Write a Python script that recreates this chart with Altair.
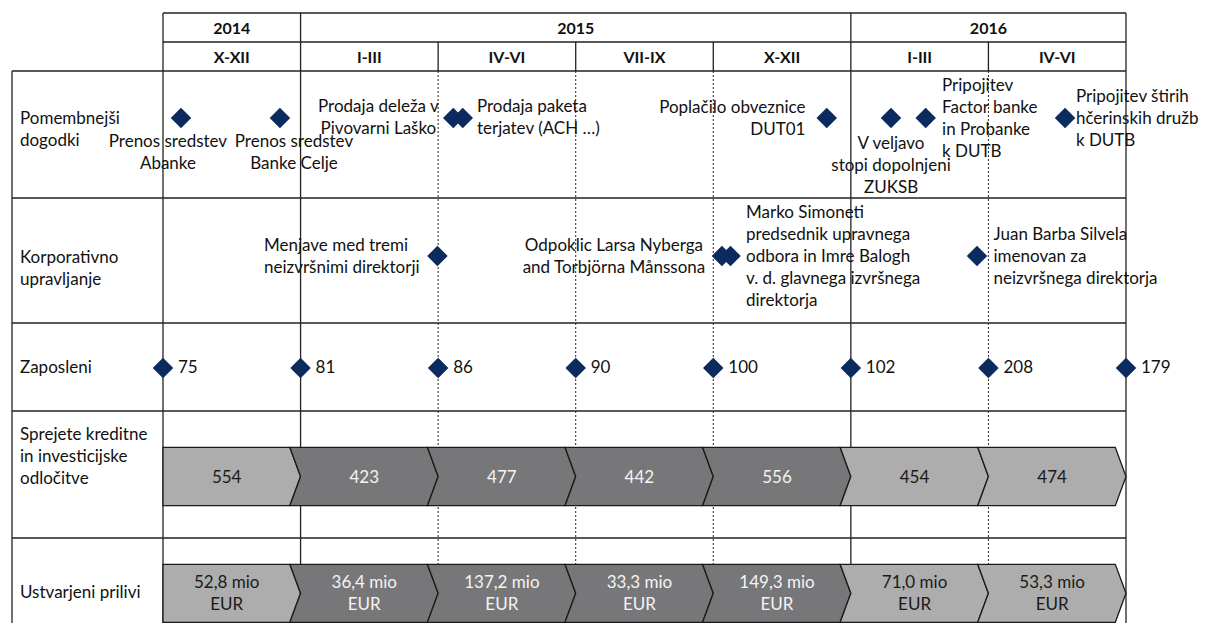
import altair as alt
import pandas as pd

# ---------------- data ----------------
years = ["2014", "2015", "2016"]
year_start = [0, 1, 5]          # in quarters counted from Oct 2014
year_end = [1, 5, 7]
quarters = ["X-XII", "I-III", "IV-VI", "VII-IX", "X-XII", "I-III", "IV-VI"]

row_names = [
    ["Pomembnejši", "dogodki"],
    ["Korporativno", "upravljanje"],
    ["Zaposleni"],
    ["Sprejete kreditne", "in investicijske", "odločitve"],
    ["Ustvarjeni prilivi"],
]

event_row = [0, 0, 0, 0, 0, 0, 0, 0, 1, 1, 1, 1]
event_time = [0.131, 0.850, 2.110, 2.179, 4.825, 5.292, 5.544, 6.557,
              1.995, 4.063, 4.125, 5.917]
event_text = [
    ["Prenos sredstev", "Abanke"],
    ["Prenos sredstev", "Banke Celje"],
    ["Prodaja deleža v", "Pivovarni Laško"],
    ["Prodaja paketa", "terjatev (ACH …)"],
    ["Poplačilo obveznice", "DUT01"],
    ["V veljavo", "stopi dopolnjeni", "ZUKSB"],
    ["Pripojitev", "Factor banke", "in Probanke", "k DUTB"],
    ["Pripojitev štirih", "hčerinskih družb", "k DUTB"],
    ["Menjave med tremi", "neizvršnimi direktorji"],
    ["Odpoklic Larsa Nyberga", "and Torbjörna Månssona"],
    ["Marko Simoneti", "predsednik upravnega", "odbora in Imre Balogh",
     "v. d. glavnega izvršnega", "direktorja"],
    ["Juan Barba Silvela", "imenovan za", "neizvršnega direktorja"],
]

employees = [75, 81, 86, 90, 100, 102, 208, 179]
decisions = ["554", "423", "477", "442", "556", "454", "474"]
inflows = ["52,8 mio", "36,4 mio", "137,2 mio", "33,3 mio", "149,3 mio", "71,0 mio", "53,3 mio"]
shade = ["light", "dark", "dark", "dark", "dark", "light", "light"]

# ---------------- layout ----------------
W, H = 1192, 615
PX_PER_Q = 137.57
X_FIRST = 163
LEFT_EDGE = (12 - X_FIRST) / PX_PER_Q
LABEL_X = (20 - X_FIRST) / PX_PER_Q
xs = alt.Scale(domain=[(8 - X_FIRST) / PX_PER_Q, (8 + W - X_FIRST) / PX_PER_Q], nice=False, zero=False)
ys = alt.Scale(domain=[8, 8 + H], reverse=True, nice=False, zero=False)

LH = 22
HEAD_Y = [13, 42, 71]
ROW_EDGES = [71, 198, 323, 411, 538]
BOTTOM = 660
ROW_LABEL_Y = [130, 269, 368, 457, 593]
DIAMOND_Y = [118, 256, 368]

label_align = ["center", "center", "center", "left", "right", "center", "left", "left",
               "left", "center", "left", "left"]
label_x = [0.036, 0.952, 1.566, 2.282, 4.670, 5.292, 5.663, 6.636,
           0.734, 3.278, 4.238, 6.037]
label_y = [152.5, 152.5, 117.5, 117.5, 119, 165.5, 119, 118.5,
           257, 257, 257, 257]

BARS = [(447.3, 505.7), (564.3, 622.3)]
NOTCH = 10.7 / PX_PER_Q
FILL = {"light": "#adadad", "dark": "#77777a"}
TEXTC = {"light": "#1a1a1a", "dark": "#f4f4f4"}

FONT = "Lato"
LINE = "#222222"
NAVY = "#0b2a5e"


def first_line(center, lines):
    """y of the first line so that a block of lines is centred on `center`."""
    return center - (len(lines) - 1) * LH / 2


# ---------------- tables ----------------
solid, dotted = [], []
for yy in HEAD_Y[:2]:
    solid.append(dict(x=0, x2=7, y=yy, y2=yy))
for yy in ROW_EDGES:
    solid.append(dict(x=LEFT_EDGE, x2=7, y=yy, y2=yy))
for qq in [0, 1, 5, 7]:
    solid.append(dict(x=qq, x2=qq, y=HEAD_Y[0], y2=BOTTOM))
solid.append(dict(x=LEFT_EDGE, x2=LEFT_EDGE, y=HEAD_Y[2], y2=BOTTOM))
for qq in [2, 3, 4, 6]:
    solid.append(dict(x=qq, x2=qq, y=HEAD_Y[1], y2=HEAD_Y[2]))
    dotted.append(dict(x=qq, x2=qq, y=HEAD_Y[2], y2=BOTTOM))
solid_df = pd.DataFrame(solid)
dotted_df = pd.DataFrame(dotted)

head = []
for name, a, b in zip(years, year_start, year_end):
    head.append(dict(x=(a + b) / 2, y=(HEAD_Y[0] + HEAD_Y[1]) / 2 + 1, t=name))
for i, name in enumerate(quarters):
    head.append(dict(x=i + 0.5, y=(HEAD_Y[1] + HEAD_Y[2]) / 2 + 1, t=name))
head_df = pd.DataFrame(head)

rowlab_df = pd.DataFrame(dict(x=[LABEL_X] * len(row_names),
                              y=[first_line(c, t) for c, t in zip(ROW_LABEL_Y, row_names)],
                              t=row_names))

diam = [dict(x=t, y=DIAMOND_Y[r]) for r, t in zip(event_row, event_time)]
diam += [dict(x=i, y=DIAMOND_Y[2]) for i in range(len(employees))]
diam_df = pd.DataFrame(diam)

ev_df = pd.DataFrame(dict(x=label_x,
                          y=[first_line(c, t) for c, t in zip(label_y, event_text)],
                          t=event_text, a=label_align))
emp_df = pd.DataFrame(dict(x=list(range(len(employees))), y=[DIAMOND_Y[2]] * len(employees),
                           t=[str(v) for v in employees]))

chev = []
btext = []
for b, ((top, bot), vals) in enumerate(zip(BARS, [decisions, inflows])):
    mid = (top + bot) / 2
    for i, v in enumerate(vals):
        left = [i, i, i] if i == 0 else [i - NOTCH, i, i - NOTCH]
        right = [i + 1 - NOTCH, i + 1, i + 1 - NOTCH]
        for yy, xl, xr in zip([top, mid, bot], left, right):
            chev.append(dict(seg=f"{b}-{i}", y=yy, x=xl, x2=xr, fill=FILL[shade[i]]))
        txt = [v] if b == 0 else [v, "EUR"]
        btext.append(dict(x=i + 0.5 - 0.037, y=first_line(mid + 1, txt), t=txt, c=TEXTC[shade[i]]))
chev_df = pd.DataFrame(chev)
btext_df = pd.DataFrame(btext)


def X(f="x"):
    return alt.X(f"{f}:Q", scale=xs, axis=None)


def Y(f="y"):
    return alt.Y(f"{f}:Q", scale=ys, axis=None)


grid_solid = alt.Chart(solid_df).mark_rule(color=LINE, strokeWidth=1.3).encode(
    x=X(), x2="x2:Q", y=Y(), y2="y2:Q")
grid_dot = alt.Chart(dotted_df).mark_rule(color=LINE, strokeWidth=1, strokeDash=[2, 2]).encode(
    x=X(), x2="x2:Q", y=Y(), y2="y2:Q")

bars = alt.Chart(chev_df).mark_area(orient="horizontal", stroke="#1a1a1a", strokeWidth=1.3,
                                     opacity=1, fillOpacity=1).encode(
    y=Y(), x=X(), x2="x2:Q", detail="seg:N", fill=alt.Fill("fill:N", scale=None))
bar_txt = alt.Chart(btext_df).mark_text(font=FONT, fontSize=17, lineHeight=LH, align="center",
                                        baseline="middle").encode(
    x=X(), y=Y(), text="t:N", color=alt.Color("c:N", scale=None))

diamonds = alt.Chart(diam_df).mark_point(shape="diamond", filled=True, size=420, color=NAVY,
                                         opacity=1).encode(x=X(), y=Y())


def ev_layer(al):
    return alt.Chart(ev_df).transform_filter(alt.datum.a == al).mark_text(
        font=FONT, fontSize=17, lineHeight=LH, align=al, baseline="middle", color="#111111").encode(
        x=X(), y=Y(), text="t:N")


emp_txt = alt.Chart(emp_df).mark_text(font=FONT, fontSize=17, align="left", baseline="middle",
                                      dx=15, color="#111111").encode(x=X(), y=Y(), text="t:N")

head_txt = alt.Chart(head_df).mark_text(font=FONT, fontSize=16, fontWeight="bold", align="center",
                                        baseline="middle", color="#111111").encode(
    x=X(), y=Y(), text="t:N")
row_txt = alt.Chart(rowlab_df).mark_text(font=FONT, fontSize=17, lineHeight=LH, align="left",
                                         baseline="middle", color="#111111").encode(
    x=X(), y=Y(), text="t:N")

chart = alt.layer(
    grid_solid, grid_dot, bars, bar_txt, diamonds,
    ev_layer("left"), ev_layer("right"), ev_layer("center"),
    emp_txt, head_txt, row_txt,
).properties(width=W, height=H, padding=0, autosize="none").configure_view(strokeWidth=0)

chart.save("out.html", embed_options={"renderer": "svg", "actions": False})
